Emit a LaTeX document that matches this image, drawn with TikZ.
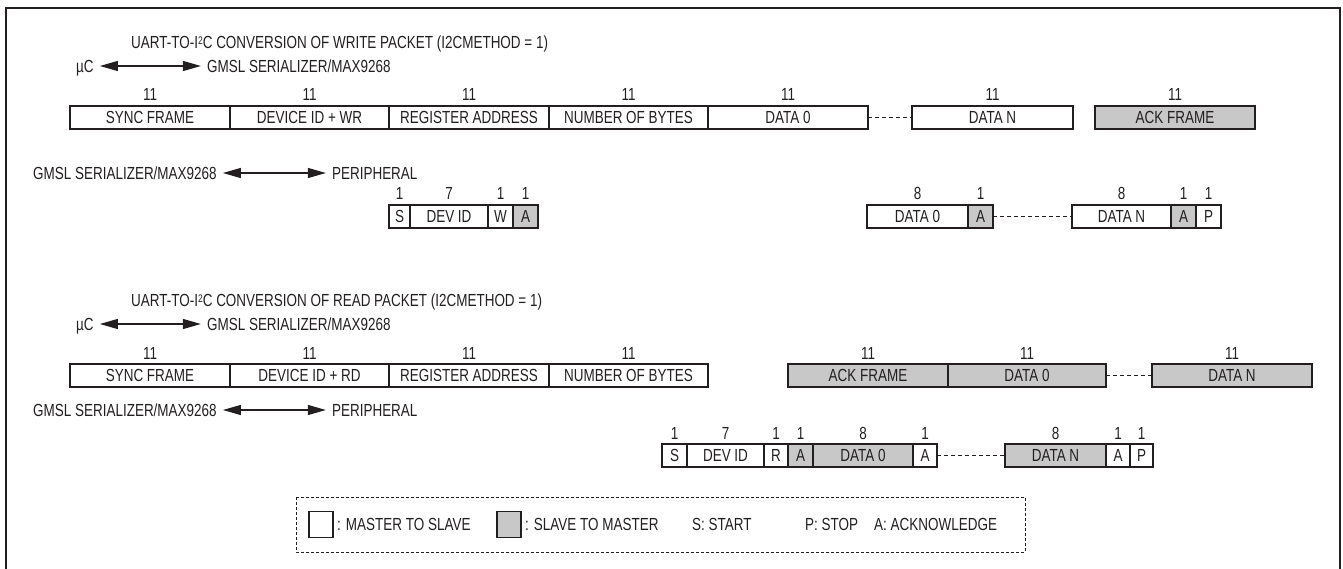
\documentclass[tikz,border=0pt]{standalone}
\usepackage{fontspec}
\setmainfont{Liberation Sans}[FakeStretch=0.77]
\usetikzlibrary{positioning, arrows.meta}
\definecolor{ink}{RGB}{35,31,32}
\definecolor{slavegray}{RGB}{200,200,200}
\newcommand{\isq}{\raisebox{0.45ex}{\fontsize{11}{11}\selectfont 2}}
\tikzset{
  x=1pt, y=-1pt,
  every node/.style={font=\fontsize{17.5}{20}\selectfont, text=ink},
  field/.style={draw=ink, line width=1.3pt, minimum height=23pt, inner sep=0pt,
    outer sep=0pt, text height=12.5pt, text depth=0pt},
  slave/.style={field, fill=slavegray},
  num/.style={inner sep=0pt, anchor=base, yshift=5pt},
  lbl/.style={inner sep=6pt, text height=12.5pt, text depth=0pt, anchor=west},
  gap/.style={draw=ink, line width=1.1pt, dash pattern=on 4pt off 3pt},
  dir/.style={draw=ink, line width=1.2pt,
    {Triangle[length=18pt,width=10pt]}-{Triangle[length=18pt,width=10pt]}},
}

\begin{document}
\begin{tikzpicture}
  \useasboundingbox (0,0) rectangle (1343,569);
  \draw[ink, line width=2pt] (6,569) -- (6,8) -- (1340,8) -- (1340,569);

  % write packet, uC side
  \node[lbl] (ttlw) at (125,42) {UART-TO-I\isq C CONVERSION OF WRITE PACKET (I2CMETHOD = 1)};
  \node[lbl] (ucw) at (70,66) {µC};
  \node[lbl, right=101pt of ucw] (serw) {GMSL SERIALIZER/MAX9268};
  \draw[dir] (ucw) -- (serw);

  \node[field, minimum width=160pt, anchor=west] (syncw) at (70,117.5) {SYNC FRAME};
  \node[field, minimum width=159pt, right=0pt of syncw] (devw) {DEVICE ID + WR};
  \node[field, minimum width=160pt, right=0pt of devw] (regw) {REGISTER ADDRESS};
  \node[field, minimum width=159pt, right=0pt of regw] (nbw) {NUMBER OF BYTES};
  \node[field, minimum width=160pt, right=0pt of nbw] (d0w) {DATA 0};
  \node[field, minimum width=161pt, right=44pt of d0w] (dnw) {DATA N};
  \node[slave, minimum width=160pt, right=22pt of dnw] (ackw) {ACK FRAME};
  \draw[gap] (d0w) -- (dnw);

  \node[num] (n1) at (syncw.north) {11};
  \node[num] (n2) at (devw.north) {11};
  \node[num] (n3) at (regw.north) {11};
  \node[num] (n4) at (nbw.north) {11};
  \node[num] (n5) at (d0w.north) {11};
  \node[num] (n6) at (dnw.north) {11};
  \node[num] (n7) at (ackw.north) {11};

  % write packet, peripheral side
  \node[lbl] (serwp) at (27,173) {GMSL SERIALIZER/MAX9268};
  \node[lbl, right=103pt of serwp] (perw) {PERIPHERAL};
  \draw[dir] (serwp) -- (perw);

  \node[field, minimum width=21pt, anchor=west] (sw) at (389,216.5) {S};
  \node[field, minimum width=78pt, right=0pt of sw] (idw) {DEV ID};
  \node[field, minimum width=25pt, right=0pt of idw] (ww) {W};
  \node[slave, minimum width=25pt, right=0pt of ww] (aw1) {A};
  \node[field, minimum width=101pt, anchor=west] (b0w) at (867,216.5) {DATA 0};
  \node[slave, minimum width=25pt, right=0pt of b0w] (aw2) {A};
  \node[field, minimum width=99pt, right=79pt of aw2] (bnw) {DATA N};
  \node[slave, minimum width=25pt, right=0pt of bnw] (aw3) {A};
  \node[field, minimum width=25pt, right=0pt of aw3] (pw) {P};
  \draw[gap] (aw2) -- (bnw);

  \node[num] (m1) at (sw.north) {1};
  \node[num] (m2) at (idw.north) {7};
  \node[num] (m3) at (ww.north) {1};
  \node[num] (m4) at (aw1.north) {1};
  \node[num] (m5) at (b0w.north) {8};
  \node[num] (m6) at (aw2.north) {1};
  \node[num] (m7) at (bnw.north) {8};
  \node[num] (m8) at (aw3.north) {1};
  \node[num] (m9) at (pw.north) {1};

  % read packet, uC side
  \node[lbl] (ttlr) at (125,300) {UART-TO-I\isq C CONVERSION OF READ PACKET (I2CMETHOD = 1)};
  \node[lbl] (ucr) at (70,324) {µC};
  \node[lbl, right=101pt of ucr] (serr) {GMSL SERIALIZER/MAX9268};
  \draw[dir] (ucr) -- (serr);

  \node[field, minimum width=160pt, anchor=west] (syncr) at (70,375.5) {SYNC FRAME};
  \node[field, minimum width=159pt, right=0pt of syncr] (devr) {DEVICE ID + RD};
  \node[field, minimum width=160pt, right=0pt of devr] (regr) {REGISTER ADDRESS};
  \node[field, minimum width=159pt, right=0pt of regr] (nbr) {NUMBER OF BYTES};
  \node[slave, minimum width=160pt, anchor=west] (ackr) at (788,375.5) {ACK FRAME};
  \node[slave, minimum width=158pt, right=0pt of ackr] (d0r) {DATA 0};
  \node[slave, minimum width=160pt, right=46pt of d0r] (dnr) {DATA N};
  \draw[gap] (d0r) -- (dnr);

  \node[num] (k1) at (syncr.north) {11};
  \node[num] (k2) at (devr.north) {11};
  \node[num] (k3) at (regr.north) {11};
  \node[num] (k4) at (nbr.north) {11};
  \node[num] (k5) at (ackr.north) {11};
  \node[num] (k6) at (d0r.north) {11};
  \node[num] (k7) at (dnr.north) {11};

  % read packet, peripheral side
  \node[lbl] (serrp) at (27,410) {GMSL SERIALIZER/MAX9268};
  \node[lbl, right=103pt of serrp] (perr) {PERIPHERAL};
  \draw[dir] (serrp) -- (perr);

  \node[field, minimum width=25pt, anchor=west] (sr) at (662,455.5) {S};
  \node[field, minimum width=77pt, right=0pt of sr] (idr) {DEV ID};
  \node[field, minimum width=24pt, right=0pt of idr] (rr) {R};
  \node[slave, minimum width=25pt, right=0pt of rr] (ar1) {A};
  \node[slave, minimum width=100pt, right=0pt of ar1] (b0r) {DATA 0};
  \node[field, minimum width=24pt, right=0pt of b0r] (ar2) {A};
  \node[slave, minimum width=101pt, right=68pt of ar2] (bnr) {DATA N};
  \node[field, minimum width=24pt, right=0pt of bnr] (ar3) {A};
  \node[field, minimum width=23pt, right=0pt of ar3] (pr) {P};
  \draw[gap] (ar2) -- (bnr);

  \node[num] (j1) at (sr.north) {1};
  \node[num] (j2) at (idr.north) {7};
  \node[num] (j3) at (rr.north) {1};
  \node[num] (j4) at (ar1.north) {1};
  \node[num] (j5) at (b0r.north) {8};
  \node[num] (j6) at (ar2.north) {1};
  \node[num] (j7) at (bnr.north) {8};
  \node[num] (j8) at (ar3.north) {1};
  \node[num] (j9) at (pr.north) {1};

  % legend
  \draw[ink, line width=1pt, dash pattern=on 3pt off 2pt] (296,497) rectangle (1025,552);
  \node[field, minimum width=24pt, minimum height=26pt, anchor=west] (keyms) at (309,524.5) {};
  \node[lbl, inner sep=4pt, right=0pt of keyms] (txtms) {: MASTER TO SLAVE};
  \node[slave, minimum width=24pt, minimum height=26pt, anchor=west] (keysm) at (497,524.5) {};
  \node[lbl, inner sep=4pt, right=0pt of keysm] (txtsm) {: SLAVE TO MASTER};
  \node[lbl, inner sep=0pt] (keys) at (692,524.5) {S: START};
  \node[lbl, inner sep=0pt] (keyp) at (805,524.5) {P: STOP};
  \node[lbl, inner sep=0pt] (keya) at (874,524.5) {A: ACKNOWLEDGE};
\end{tikzpicture}
\end{document}
